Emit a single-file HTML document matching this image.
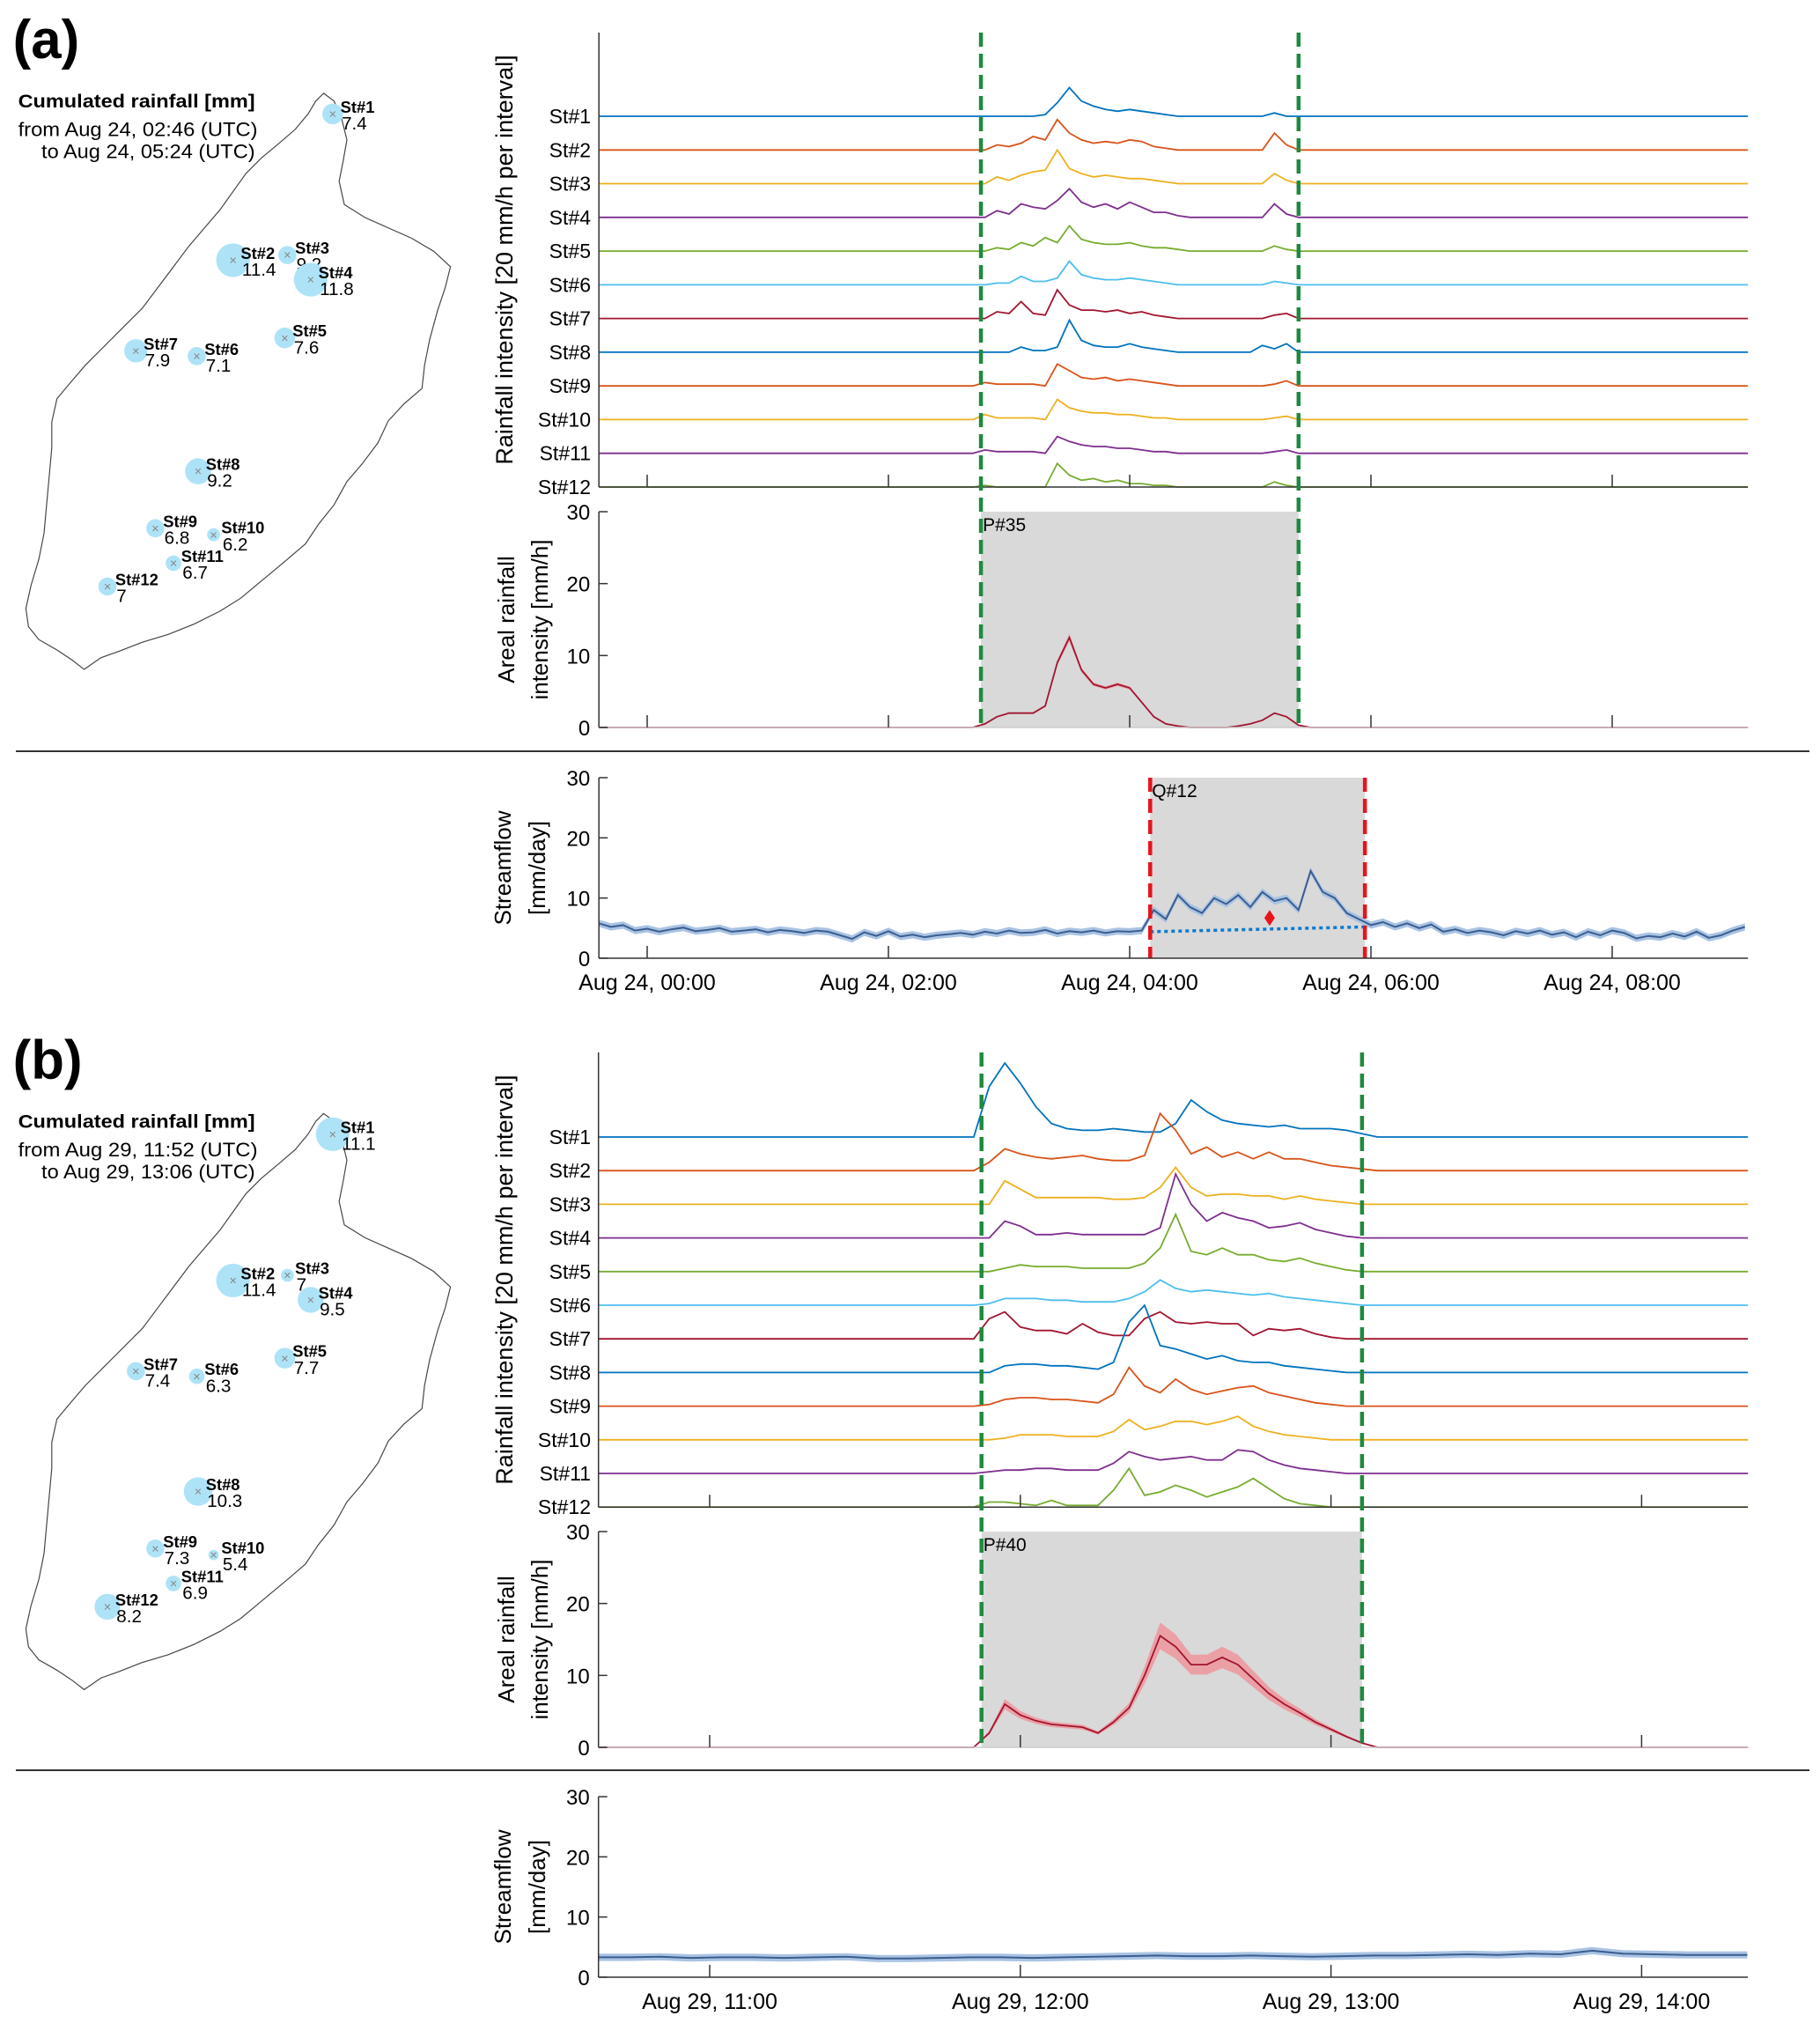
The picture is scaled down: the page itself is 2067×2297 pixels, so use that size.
<!DOCTYPE html>
<html><head><meta charset="utf-8"><style>
html,body{margin:0;padding:0;background:#fff;}
svg{display:block;font-family:"Liberation Sans",Arial,sans-serif;}
</style></head><body>
<svg id="fig" width="2067" height="2297" viewBox="0 0 2067 2297" xmlns="http://www.w3.org/2000/svg">
<rect x="0" y="0" width="2067" height="2297" fill="#fff"/>
</svg>
<script>
// ---------- DATA ----------
const stationNames = ["St#1","St#2","St#3","St#4","St#5","St#6","St#7","St#8","St#9","St#10","St#11","St#12"];
const colors = ["#0072BD","#D95319","#EDB120","#7E2F8E","#77AC30","#4DBEEE","#A2142F","#0072BD","#D95319","#EDB120","#7E2F8E","#77AC30"];

// panel (a) rainfall, hours from Aug 24 00:00, step 0.1 h starting 2.7
const rainTimesA_start = 2.7;
const rainTimesA_step = 0.1;
const rainA = [
[0,0,0,0,0,0,1,8,17,9,6,4,3,4,3,2,1,0,0,0,0,0,0,0,0,2,0,0,0],
[0,0,3,2,4,8,6,18,10,6,4,5,4,6,5,2,1,0,0,0,0,0,0,0,0,10,3,0,0],
[0,0,4,2,5,7,8,20,9,6,4,5,4,3,3,2,1,0,0,0,0,0,0,0,0,6,2,0,0],
[0,0,4,2,8,6,5,10,17,9,6,8,5,9,6,3,3,1,0,0,0,0,0,0,0,8,2,0,0],
[0,0,2,1,5,3,8,5,15,7,5,4,4,5,3,2,2,1,0,0,0,0,0,0,0,3,1,0,0],
[0,0,1,1,5,2,2,4,14,6,4,3,3,4,3,2,1,0,0,0,0,0,0,0,0,2,1,0,0],
[0,0,4,3,10,3,2,17,8,5,5,4,5,3,4,2,1,0,0,0,0,0,0,0,0,2,3,0,0],
[0,0,0,0,3,1,1,3,19,7,4,3,3,5,3,2,1,0,0,0,0,0,0,0,4,2,5,0,0],
[0,2,1,1,1,1,0,13,9,5,4,5,3,4,3,2,1,0,0,0,0,0,0,0,0,1,3,0,0],
[0,3,1,1,1,1,0,12,7,5,4,4,3,3,2,1,1,0,0,0,0,0,0,0,0,1,2,0,0],
[0,2,1,1,1,1,0,10,7,5,4,4,3,3,2,1,1,0,0,0,0,0,0,0,0,1,2,0,0],
[0,1,0,0,0,0,0,14,7,4,5,3,4,2,2,1,1,0,0,0,0,0,0,0,0,3,1,0,0]
];
const arealA = [0,0.5,1.5,2,2,2,3,9,12.5,8,6,5.5,6,5.5,3.5,1.5,0.5,0.2,0,0,0,0,0.2,0.5,1,2,1.5,0.3,0];
const flowA_start = -0.4;
const flowA_step = 0.1;
const flowA = [5.8,5.2,5.5,4.6,4.9,4.4,4.8,5.1,4.5,4.7,
5.0,4.4,4.6,4.8,4.3,4.7,4.5,4.2,4.6,4.4,
3.8,3.2,4.3,3.7,4.5,3.6,3.9,3.5,3.8,4.0,
4.2,3.9,4.4,4.1,4.6,4.2,4.3,4.7,4.1,4.5,
4.3,4.6,4.2,4.5,4.4,4.6,8.0,6.5,10.5,8.5,
7.5,10,9,10.5,8.5,11,9.5,10,8,14.5,
11,10,7.5,6.5,5.5,6.0,5.2,5.8,5.0,5.6,
4.4,4.8,4.2,4.6,4.3,3.8,4.5,4.1,4.6,3.9,
4.3,3.5,4.4,3.8,4.6,4.2,3.3,3.7,3.5,4.1,
3.6,4.4,3.4,3.8,4.6,5.2];
const baseflowA = [[4.17,4.4],[5.95,5.2]];
const peakMarkerA = [5.16,6.7];
const eventA = [2.767,5.4];
const flowEventA = [4.17,5.95];
const tickHoursA = [0,2,4,6,8];
const tickLabelsA = ["Aug 24, 00:00","Aug 24, 02:00","Aug 24, 04:00","Aug 24, 06:00","Aug 24, 08:00"];

// panel (b), hours from Aug 29 00:00, step 0.05 h starting 11.85
const rainTimesB_start = 11.85;
const rainTimesB_step = 0.05;
const rainB = [
[0,30,44,32,18,8,5,4,4,5,4,3,3,8,22,15,10,8,7,6,7,5,5,5,4,2,0],
[0,5,13,10,8,7,8,9,7,6,6,9,34,24,10,14,8,11,7,11,7,7,5,3,2,1,0],
[0,0,14,9,4,4,4,4,4,3,3,4,10,22,10,5,6,6,5,5,3,5,3,2,1,0,0],
[0,0,10,7,2,2,3,2,2,2,2,2,6,38,20,10,15,12,10,6,7,9,5,3,1,0,0],
[0,0,2,4,3,3,3,2,2,2,2,5,14,34,12,10,14,10,10,7,6,8,5,3,1,0,0],
[0,1,4,4,4,3,3,2,2,2,4,8,15,10,8,9,8,7,6,7,5,4,3,2,1,0,0],
[0,12,16,7,5,5,3,9,4,2,2,12,16,10,9,10,9,9,2,6,5,6,3,1,0,0,0],
[0,0,4,5,5,4,4,3,2,6,30,40,16,14,11,8,10,7,6,6,4,3,2,1,0,0,0],
[0,1,4,5,5,4,4,3,2,7,23,12,8,16,10,7,9,11,12,8,6,4,2,1,0,0,0],
[0,0,1,3,3,3,2,2,2,5,12,6,8,11,11,9,11,14,8,5,3,2,1,0,0,0,0],
[0,1,2,2,3,3,2,2,2,6,13,10,8,9,10,8,8,14,13,8,5,3,2,1,0,0,0],
[0,3,3,2,1,4,1,1,1,10,23,7,9,13,10,6,9,12,17,11,5,2,1,0,0,0,0]
];
const arealB = [0,2,6,4.5,3.7,3.2,3,2.8,2.0,3.5,5.5,10,15.5,14,11.5,11.5,12.5,11.5,9.5,7.5,6,4.8,3.5,2.5,1.5,0.6,0];
const flowB_start = 10.64;
const flowB_step = 0.1;
const flowB = [3.3,3.3,3.4,3.2,3.3,3.3,3.2,3.3,3.4,3.1,3.1,3.2,3.3,3.3,3.2,3.3,3.4,3.5,3.6,3.5,3.5,3.6,3.5,3.4,3.5,3.6,3.6,3.7,3.8,3.7,3.9,3.8,4.4,3.9,3.8,3.7,3.7,3.7];
const eventB = [11.875,13.1];
const tickHoursB = [11,12,13,14];
const tickLabelsB = ["Aug 29, 11:00","Aug 29, 12:00","Aug 29, 13:00","Aug 29, 14:00"];

// map station bubbles (display units), cumulated rainfall
const cumA = ["7.4","11.4","9.2","11.8","7.6","7.1","7.9","9.2","6.8","6.2","6.7","7"];
const cumB = ["11.1","11.4","7","9.5","7.7","6.3","7.4","10.3","7.3","5.4","6.9","8.2"];
const radiusA = [8,13,7,13,8,7,9,10,7,5,6,7];
const radiusB = [13,13,5,10,8,6,7,11,7,4,6,10];

// ---------- DRAWING ----------
const NS="http://www.w3.org/2000/svg";
const svg=document.getElementById('fig');
function mk(tag,attrs,parent){const e=document.createElementNS(NS,tag);for(const k in attrs)e.setAttribute(k,attrs[k]);(parent||svg).appendChild(e);return e;}
function txt(s,attrs,parent){const e=mk('text',attrs,parent);e.textContent=s;return e;}

const stPos=[[257,88],[180,201],[222,197],[240,216],[220,261],[152,275],[105,271],[153,364],[120,408],[165,413],[134,435],[83,453]];
const outline="250,72 258,78 264,92 268,108 265,125 262,140 266,158 282,168 300,176 318,184 335,194 348,206 344,222 338,240 332,262 328,282 326,300 312,312 300,325 292,342 280,358 268,372 258,390 246,405 236,420 222,432 210,442 198,452 186,462 170,472 150,482 130,490 110,496 92,503 78,508 65,517 56,510 44,502 30,494 22,484 20,470 24,452 30,432 34,412 36,390 38,368 40,346 40,326 44,308 54,296 66,282 80,268 96,252 110,238 122,222 134,206 146,190 158,176 170,162 180,148 190,134 202,122 214,112 228,100 238,88 244,78";

function drawMap(offY,cum,rad,fromTxt,toTxt,label,pname){
  const g=mk('g',{transform:`scale(1.4701) translate(0,${offY})`});
  
  
  const lab=txt(label,{x:10,y:45,'font-size':42,'font-weight':'bold',fill:'#000'},g);
  
  
  const t1=txt('Cumulated rainfall [mm]',{x:14,y:83,'font-size':14.5,'font-weight':'bold',textLength:183,lengthAdjust:'spacingAndGlyphs'},g);
  
  
  txt(fromTxt,{x:14,y:105,'font-size':15,textLength:185,lengthAdjust:'spacingAndGlyphs'},g);
  txt(toTxt,{x:32,y:122,'font-size':15,textLength:165,lengthAdjust:'spacingAndGlyphs'},g);
  const poly=mk('polygon',{points:outline,fill:'none',stroke:'#444','stroke-width':0.8},g);
  
  
  for(let i=0;i<12;i++){
    const [x,y]=stPos[i];
    const c=mk('circle',{cx:x,cy:y,r:rad[i],fill:'#aee3f7'},g);
    
    
    txt('×',{x:x,y:y+3.5,'font-size':10,'text-anchor':'middle',fill:'#888'},g);
    txt(stationNames[i],{x:x+6,y:y-1,'font-size':12.5,'font-weight':'bold'},g);
    txt(cum[i],{x:x+7,y:y+12,'font-size':14},g);
  }
}

function polyline(pts,attrs,name){
  const p=mk('polyline',Object.assign({points:pts.map(p=>p[0].toFixed(1)+','+p[1].toFixed(1)).join(' '),fill:'none'},attrs));
  
  
  return p;
}

function drawPanel(P){
  const X=t=>P.x0+(t-P.t0)*P.pxh;
  const L=X(P.tmin), R=X(P.tmax);
  const rowY=k=>P.row0+k*P.rowH;
  const unit=P.rowH/20;
  for(let k=0;k<12;k++){
    const pts=[[L,rowY(k)]];
    const arr=P.rain[k];
    for(let i=0;i<arr.length;i++){pts.push([X(P.rs+i*P.rstep),rowY(k)-arr[i]*unit]);}
    pts.push([R,rowY(k)]);
    polyline(pts,{stroke:colors[k],'stroke-width':1.8},P.name+'-rain-'+stationNames[k].replace('#','').toLowerCase());
    const lt=txt(stationNames[k],{x:P.stLabX,y:rowY(k)+8,'font-size':23,'text-anchor':'end'});
    
    
  }
  mk('line',{x1:L,y1:P.topAx,x2:L,y2:rowY(11),stroke:'#333','stroke-width':1.5});
  mk('line',{x1:L,y1:rowY(11),x2:R,y2:rowY(11),stroke:'#333','stroke-width':1.5});
  P.ticks.forEach(t=>mk('line',{x1:X(t),y1:rowY(11),x2:X(t),y2:rowY(11)-14,stroke:'#333','stroke-width':1.5}));
  const yt=txt('Rainfall intensity [20 mm/h per interval]',{x:0,y:0,'font-size':27,'text-anchor':'middle',transform:`translate(${P.titleX+2},${(P.topAx+rowY(11))/2}) rotate(-90)`});
  
  

  // Areal plot
  const AY=v=>P.a0-v*(P.a0-P.a30)/30;
  const g1=mk('rect',{x:X(P.ev[0]),y:AY(30),width:X(P.ev[1])-X(P.ev[0]),height:AY(0)-AY(30),fill:'#d9d9d9'});
  
  
  txt(P.evLabel,{x:X(P.ev[0])+2,y:AY(30)+22,'font-size':21});
  const up=[],dn=[];
  for(let i=0;i<P.areal.length;i++){const t=P.rs+i*P.rstep,v=P.areal[i];up.push([X(t),AY(v*(1+P.band))]);dn.push([X(t),AY(Math.max(0,v*(1-P.band)))]);}
  const band=mk('polygon',{points:up.concat(dn.reverse()).map(p=>p[0].toFixed(1)+','+p[1].toFixed(1)).join(' '),fill:'#eba0a6',stroke:'none'});
  
  
  const ap=[[L,AY(0)]];
  for(let i=0;i<P.areal.length;i++)ap.push([X(P.rs+i*P.rstep),AY(P.areal[i])]);
  ap.push([R,AY(0)]);
  polyline(ap,{stroke:'#a2142f','stroke-width':1.8},P.name+'-areal-rainfall-line');
  mk('line',{x1:L,y1:AY(30),x2:L,y2:AY(0),stroke:'#333','stroke-width':1.5});
  mk('line',{x1:L,y1:AY(0),x2:R,y2:AY(0),stroke:'#ccc','stroke-width':1.5});
  [0,10,20,30].forEach(v=>{mk('line',{x1:L,y1:AY(v),x2:L+10,y2:AY(v),stroke:'#333','stroke-width':1.5});txt(String(v),{x:L-10,y:AY(v)+9,'font-size':24,'text-anchor':'end'});});
  P.ticks.forEach(t=>mk('line',{x1:X(t),y1:AY(0),x2:X(t),y2:AY(0)-14,stroke:'#333','stroke-width':1.5}));
  const at=txt('',{x:0,y:0,'font-size':26,'text-anchor':'middle',transform:`translate(${P.titleX+4},${(AY(0)+AY(30))/2}) rotate(-90)`});
  
  
  const s1=mk('tspan',{x:0,dy:0},at);s1.textContent='Areal rainfall';
  const s2=mk('tspan',{x:0,dy:38},at);s2.textContent='intensity [mm/h]';

  P.ev.forEach((t,i)=>{const l=mk('line',{x1:X(t),y1:P.topAx,x2:X(t),y2:AY(0),stroke:'#1e8a3e','stroke-width':4.5,'stroke-dasharray':'16,8'});
    
    });

  mk('line',{x1:18,y1:P.div,x2:2055,y2:P.div,stroke:'#333','stroke-width':2});

  // Streamflow
  const FY=v=>P.f0-v*(P.f0-P.f30)/30;
  if(P.fev){
    const sh=mk('rect',{x:X(P.fev[0]),y:FY(30),width:X(P.fev[1])-X(P.fev[0]),height:FY(0)-FY(30),fill:'#d9d9d9'});
    
    
    txt(P.fevLabel,{x:X(P.fev[0])+2,y:FY(30)+22,'font-size':21});
  }
  const fu=[],fd=[],fl=[];
  for(let i=0;i<P.flow.length;i++){const t=Math.min(P.fs+i*P.fstep,P.tmax);const v=P.flow[i];fu.push([X(t),FY(v+0.6)]);fd.push([X(t),FY(v-0.6)]);fl.push([X(t),FY(v)]);if(t>=P.tmax)break;}
  const fb=mk('polygon',{points:fu.concat(fd.reverse()).map(p=>p[0].toFixed(1)+','+p[1].toFixed(1)).join(' '),fill:'#a9c3e3'});
  
  
  polyline(fl,{stroke:'#3b5d8f','stroke-width':2},P.name+'-streamflow-line');
  if(P.base){
    const b=mk('line',{x1:X(P.base[0][0]),y1:FY(P.base[0][1]),x2:X(P.base[1][0]),y2:FY(P.base[1][1]),stroke:'#0a7bd0','stroke-width':3.5,'stroke-dasharray':'4,4'});
    
    
    const mx=X(P.marker[0]),my=FY(P.marker[1]);
    const d=mk('polygon',{points:`${mx},${my-9} ${mx+6},${my} ${mx},${my+9} ${mx-6},${my}`,fill:'#e8141c'});
    
    
    P.fev.forEach((t,i)=>{const l=mk('line',{x1:X(t),y1:FY(30),x2:X(t),y2:FY(0),stroke:'#e8141c','stroke-width':4.5,'stroke-dasharray':'16,8'});
      
      });
  }
  mk('line',{x1:L,y1:FY(30),x2:L,y2:FY(0),stroke:'#333','stroke-width':1.5});
  mk('line',{x1:L,y1:FY(0),x2:R,y2:FY(0),stroke:'#333','stroke-width':1.5});
  [0,10,20,30].forEach(v=>{mk('line',{x1:L,y1:FY(v),x2:L+10,y2:FY(v),stroke:'#333','stroke-width':1.5});txt(String(v),{x:L-10,y:FY(v)+9,'font-size':24,'text-anchor':'end'});});
  P.ticks.forEach((t,i)=>{mk('line',{x1:X(t),y1:FY(0),x2:X(t),y2:FY(0)-14,stroke:'#333','stroke-width':1.5});
    const tl=txt(P.tickLabels[i],{x:X(t),y:FY(0)+36,'font-size':25,'text-anchor':'middle'});
    
    });
  const ft=txt('',{x:0,y:0,'font-size':26,'text-anchor':'middle',transform:`translate(${P.titleX},${(FY(0)+FY(30))/2}) rotate(-90)`});
  
  
  const f1=mk('tspan',{x:0,dy:0},ft);f1.textContent='Streamflow';
  const f2=mk('tspan',{x:0,dy:39},ft);f2.textContent='[mm/day]';
}

drawMap(0,cumA,radiusA,'from Aug 24, 02:46 (UTC)','to Aug 24, 05:24 (UTC)','(a)','panel-a');
drawMap(788,cumB,radiusB,'from Aug 29, 11:52 (UTC)','to Aug 29, 13:06 (UTC)','(b)','panel-b');

drawPanel({name:'panel-a',x0:735,t0:0,pxh:137,tmin:-0.4,tmax:9.125,row0:132,rowH:38.27,topAx:37,
  rain:rainA,rs:rainTimesA_start,rstep:rainTimesA_step,areal:arealA,band:0.04,a0:826,a30:581,
  ev:eventA,evLabel:'P#35',div:853,f0:1088,f30:883,flow:flowA,fs:flowA_start,fstep:flowA_step,
  fev:flowEventA,fevLabel:'Q#12',base:baseflowA,marker:peakMarkerA,ticks:tickHoursA,tickLabels:tickLabelsA,
  stLabX:671,titleX:580});
drawPanel({name:'panel-b',x0:806,t0:11,pxh:352.8,tmin:10.642,tmax:14.342,row0:1291,rowH:38.2,topAx:1195,
  rain:rainB,rs:rainTimesB_start,rstep:rainTimesB_step,areal:arealB,band:0.12,a0:1984,a30:1739,
  ev:eventB,evLabel:'P#40',div:2010,f0:2245,f30:2040,flow:flowB,fs:flowB_start,fstep:flowB_step,
  fev:null,base:null,ticks:tickHoursB,tickLabels:tickLabelsB,stLabX:671,titleX:580});
</script>
</body></html>
